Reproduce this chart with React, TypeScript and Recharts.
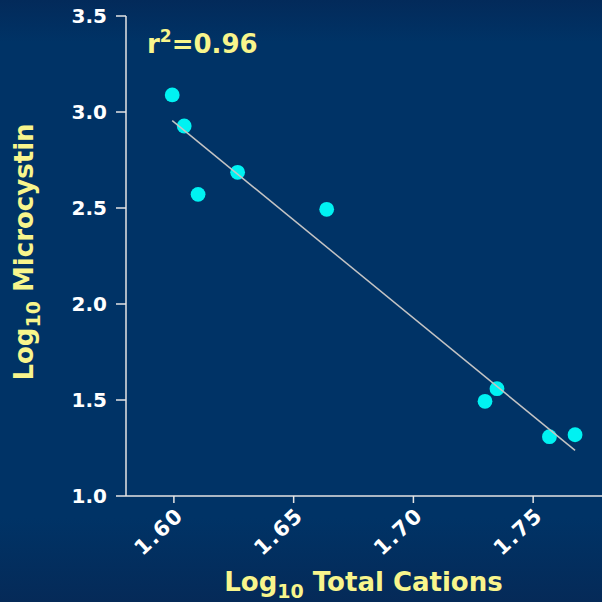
import { ScatterChart, Scatter, XAxis, YAxis, Customized } from "recharts";

const cations = [1.5993, 1.6043, 1.6101, 1.6266, 1.6638, 1.7299, 1.7349, 1.7568, 1.7675];
const microcystin = [3.089, 2.927, 2.571, 2.686, 2.493, 1.493, 1.559, 1.309, 1.319];
const fitX = [1.5993, 1.7675];
const fitY = [2.955, 1.238];
const xTicks = [1.6, 1.65, 1.7, 1.75];
const yTicks = [1.0, 1.5, 2.0, 2.5, 3.0, 3.5];

const points = cations.map((x, i) => ({ x, y: microcystin[i] }));
const fit = fitX.map((x, i) => ({ x, y: fitY[i] }));

const FONT = "'DejaVu Sans', Verdana, sans-serif";
const YELLOW = "#f8f58c";
const AXIS = "#e4e4e4";

function Dot(props: any) {
  return <circle cx={props.cx} cy={props.cy} r={7.4} fill="#00f2f2" />;
}

function XTick({ x, y, payload }: any) {
  return (
    <g transform={`translate(${x + 11},${y + 12})`}>
      <text
        textAnchor="end"
        transform="rotate(-43)"
        fill="#fff"
        fontSize={21}
        fontWeight="bold"
        letterSpacing={1.5}
        fontFamily={FONT}
      >
        {payload.value.toFixed(2)}
      </text>
    </g>
  );
}

function XTitle({ viewBox }: any) {
  const cx = viewBox.x + viewBox.width / 2 - 2;
  return (
    <text x={cx} y={591} textAnchor="middle" fill={YELLOW} fontSize={26} fontWeight="bold" fontFamily={FONT}>
      Log
      <tspan fontSize={19} dy={7}>10</tspan>
      <tspan dy={-7}> Total Cations</tspan>
    </text>
  );
}

function YTitle({ viewBox }: any) {
  const cy = viewBox.y + viewBox.height / 2 - 4;
  return (
    <text
      x={33}
      y={cy}
      transform={`rotate(-90, 33, ${cy})`}
      textAnchor="middle"
      fill={YELLOW}
      fontSize={26}
      fontWeight="bold"
      fontFamily={FONT}
    >
      Log
      <tspan fontSize={19} dy={7}>10</tspan>
      <tspan dy={-7}> Microcystin</tspan>
    </text>
  );
}

function RSquared() {
  return (
    <text x={147} y={53} fill={YELLOW} fontSize={26} fontWeight="bold" fontFamily={FONT}>
      r<tspan fontSize={17} dy={-11}>2</tspan>
      <tspan dy={11}>=0.96</tspan>
    </text>
  );
}

export default function App() {
  return (
    <div
      style={{
        position: "fixed",
        left: 0,
        top: 0,
        width: 602,
        height: 602,
        overflow: "hidden",
        background: "linear-gradient(#032a5a 0%, #003366 7%, #003366 86%, #052a58 100%)",
      }}
    >
      <ScatterChart width={606} height={602} margin={{ top: 16, right: 1, bottom: 0, left: 0 }}>
        <XAxis
          type="number"
          dataKey="x"
          domain={[1.58, 1.78]}
          ticks={xTicks}
          allowDataOverflow
          height={106}
          stroke={AXIS}
          strokeWidth={1.5}
          tickSize={7}
          tick={<XTick />}
          label={<XTitle />}
        />
        <YAxis
          type="number"
          dataKey="y"
          domain={[1, 3.5]}
          ticks={yTicks}
          width={126}
          stroke={AXIS}
          strokeWidth={1.5}
          tickSize={10}
          tickMargin={9}
          tickFormatter={(v: number) => v.toFixed(1)}
          tick={{ fill: "#fff", fontSize: 20, fontWeight: "bold", fontFamily: FONT }}
          label={<YTitle />}
        />
        <Scatter data={points} shape={<Dot />} isAnimationActive={false} />
        <Scatter
          data={fit}
          line={{ stroke: "#c4c4c4", strokeWidth: 1.5 }}
          shape={() => <g />}
          isAnimationActive={false}
        />
        <Customized component={<RSquared />} />
      </ScatterChart>
    </div>
  );
}
